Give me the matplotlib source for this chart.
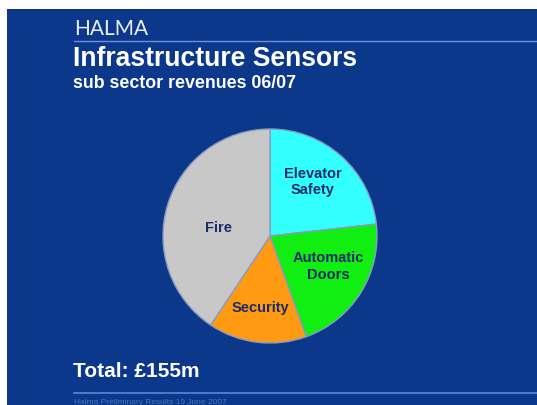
import matplotlib.pyplot as plt
from matplotlib.patches import Rectangle
import numpy as np

# Infrastructure Sensors sub sector revenues 06/07 (GBP m)
sectors = ["Elevator\nSafety", "Automatic\nDoors", "Security", "Fire"]
revenues = [36, 33, 23, 63]
colors = ["#33ffff", "#11ee11", "#ff9a12", "#c8c8c8"]
total = 155

W, H = 537, 405
navy = "#0b388a"
label_col = "#1b2c6a"

fig = plt.figure(figsize=(W / 100, H / 100), dpi=100)
fig.patch.set_facecolor("white")
# slide background (white margin at top and left)
fig.patches.append(Rectangle((7 / W, 0), 1, 1 - 9 / H, transform=fig.transFigure,
                             facecolor=navy, edgecolor="none", zorder=-5))


def px(x, y):
    return x / W, 1 - y / H


# header
fig.text(*px(74, 35), "HALMA", color="#e8eefa", fontsize=15,
         family="Lato", va="baseline")
fig.lines.append(plt.Line2D([74 / W, 1], [1 - 40.5 / H] * 2, transform=fig.transFigure,
                            color="#6f92d6", lw=1.0))
fig.text(*px(73, 66), "Infrastructure Sensors", color="white", fontsize=19.1,
         family="Liberation Sans", fontweight="bold", va="baseline")
fig.text(*px(73, 88), "sub sector revenues 06/07", color="white", fontsize=12.8,
         family="Liberation Sans", fontweight="bold", va="baseline")

# pie
ax = fig.add_axes([163 / W, (H - 343) / H, 214 / W, 214 / H])
ax.set_zorder(2)
wedges, _ = ax.pie(revenues, colors=colors, startangle=90, counterclock=False,
                   wedgeprops=dict(edgecolor="#8a9bbf", linewidth=1.0))
ax.set_xlim(-1, 1)
ax.set_ylim(-1, 1)
ax.set_aspect("equal")

# label placement: distance from centre and angle nudge (deg) per wedge
dists = [0.645, 0.62, 0.68, 0.49]
nudges = [3.3, 4.2, -0.9, 7.9]
for w, name, d, n in zip(wedges, sectors, dists, nudges):
    mid = np.deg2rad((w.theta1 + w.theta2) / 2 + n)
    ax.text(d * np.cos(mid), d * np.sin(mid), name, ha="center", va="center",
            color=label_col, fontsize=10.5, fontweight="bold",
            family="Liberation Sans", linespacing=1.25)

# footer
fig.text(*px(73, 377), f"Total: £{total}m", color="white", fontsize=15,
         family="Liberation Sans", fontweight="bold", va="baseline")
fig.lines.append(plt.Line2D([74 / W, 1], [1 - 393 / H] * 2, transform=fig.transFigure,
                            color="#5f86cf", lw=1.2))
fig.text(*px(74, 404), "Halma Preliminary Results 19 June 2007", color="#4f73b8",
         fontsize=6, family="Liberation Sans", va="baseline")

fig.savefig("out.png", dpi=100)
